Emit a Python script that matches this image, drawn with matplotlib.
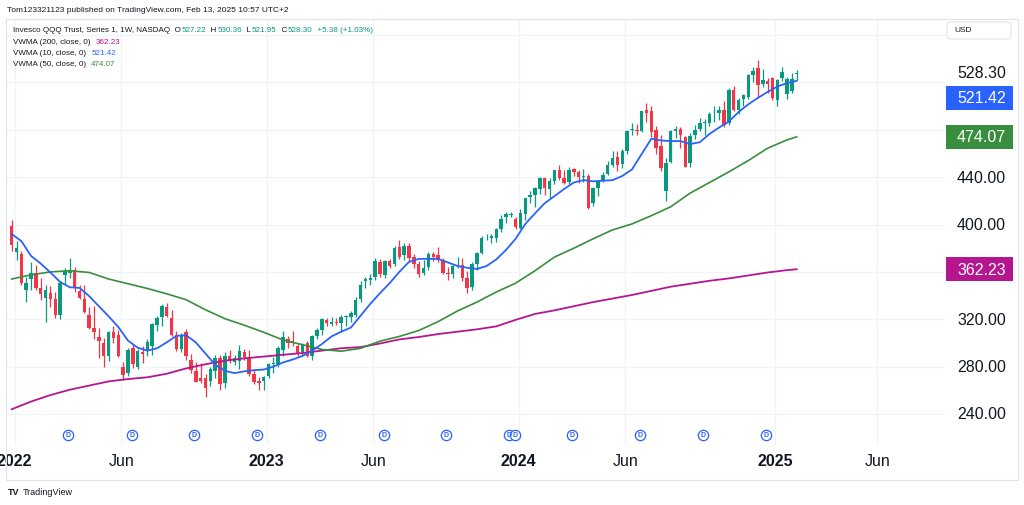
import numpy as np
import pandas as pd
import matplotlib
matplotlib.use('Agg')
import matplotlib.pyplot as plt
import matplotlib.dates as mdates
from matplotlib.patches import Rectangle, FancyBboxPatch
from matplotlib.transforms import blended_transform_factory, offset_copy

plt.rcParams['font.family'] = ['Liberation Sans', 'DejaVu Sans']

W, H = 1024, 506
DARK = '#131722'
GREEN = '#089981'
RED = '#f23645'
BLUE = '#2962ff'
MA50_COL = '#388e3c'
MA200_COL = '#b5168f'
GRID = '#f0f3fa'

# weekly QQQ candles, Jan 3 2022 .. Feb 10 2025
opens = [399, 377, 375, 345, 354, 359, 346, 338, 342, 337, 324, 357, 359, 362, 344, 337, 324, 313, 305, 300,
         289, 309, 307, 280, 275, 296, 280, 292, 294, 297, 315, 322, 330, 321, 307, 295, 309, 286, 276, 270,
         270, 268, 276, 287, 266, 289, 284, 285, 292, 287, 274, 268,
         268, 272, 282, 282, 294, 303, 302, 297, 292, 300, 289, 306, 311, 319, 316, 318, 317, 322,
         322, 324, 337, 352, 353, 356, 368, 357, 369, 367, 381, 374, 382, 373, 367, 359, 364, 375, 374, 370,
         359, 358, 365, 366, 355, 347, 367, 376, 390, 389, 389, 396, 406, 408,
         405, 397, 409, 423, 425, 430, 439, 430, 437, 446, 439, 436, 447, 444, 440, 441, 418, 431, 438, 443,
         450, 457, 451, 462, 480, 480, 479, 497, 496, 480, 466, 428, 453, 479, 481, 474, 452, 476, 481, 486,
         486, 494, 494, 497, 486, 514, 497, 506, 508, 526, 532, 519, 521, 524, 505, 524, 510, 513, 527.22]
highs = [404, 386, 378, 356, 368, 366, 355, 349, 348, 343, 352, 363, 372, 364, 349, 349, 330, 331, 313, 304,
         310, 314, 311, 284, 296, 299, 295, 297, 303, 317, 323, 333, 334, 328, 310, 308, 312, 291, 284, 283,
         274, 280, 290, 290, 292, 294, 290, 298, 295, 294, 277, 271,
         272, 283, 288, 297, 310, 306, 310, 299, 300, 302, 307, 313, 321, 321, 322, 321, 324, 324,
         327, 339, 352, 356, 358, 372, 371, 370, 371, 382, 387, 384, 384, 375, 369, 370, 377, 377, 381, 372,
         364, 366, 373, 372, 361, 368, 377, 390, 392, 392, 397, 408, 411, 411,
         406, 413, 422, 428, 432, 440, 440, 439, 446, 450, 446, 449, 448, 446, 447, 443, 432, 438, 444, 454,
         462, 462, 464, 480, 486, 485, 496, 503, 500, 483, 476, 456, 480, 483, 482, 475, 477, 484, 490, 489,
         495, 500, 500, 504, 515, 517, 507, 510, 527, 533, 539, 531, 524, 525, 523, 533, 525, 528, 530.36]
lows = [378, 370, 349, 335, 345, 345, 336, 318, 330, 321, 320, 350, 355, 343, 337, 325, 312, 303, 287, 280,
        285, 300, 288, 269, 272, 279, 278, 283, 289, 290, 310, 314, 322, 306, 293, 292, 286, 275, 267, 266,
        254, 264, 270, 260, 262, 283, 281, 278, 286, 272, 265, 260,
        260, 270, 275, 280, 289, 296, 297, 289, 289, 288, 286, 303, 307, 314, 314, 315, 309, 314,
        318, 322, 335, 346, 349, 353, 356, 355, 363, 365, 371, 370, 368, 363, 356, 357, 362, 369, 368, 358,
        353, 355, 363, 352, 342, 345, 362, 375, 387, 384, 385, 394, 401, 406,
        396, 396, 404, 418, 415, 426, 425, 422, 434, 438, 434, 434, 441, 435, 436, 413, 416, 424, 436, 442,
        449, 445, 448, 460, 476, 476, 478, 487, 474, 460, 445, 420, 452, 473, 465, 449, 449, 472, 479, 476,
        483, 487, 488, 482, 484, 496, 493, 500, 506, 520, 507, 516, 511, 505, 500, 521, 506, 511, 521.95]
closes = [383, 380, 351, 351, 359, 346, 341, 345, 337, 324, 351, 361, 362, 346, 338, 326, 313, 309, 302, 289,
          309, 304, 289, 273, 294, 282, 293, 291, 301, 316, 321, 331, 323, 307, 295, 306, 289, 277, 267, 268,
          262, 278, 287, 265, 289, 286, 287, 293, 288, 274, 267, 266,
          271, 282, 283, 296, 305, 300, 300, 291, 299, 289, 306, 311, 320, 317, 318, 317, 322, 322,
          325, 336, 349, 354, 355, 369, 358, 369, 365, 380, 373, 382, 372, 367, 358, 363, 375, 373, 370, 359,
          358, 365, 366, 355, 346, 367, 376, 389, 390, 390, 396, 405, 409, 409,
          398, 410, 422, 425, 431, 439, 431, 437, 446, 439, 435, 446, 444, 440, 440.5, 414, 431, 437, 442, 450,
          456, 450, 462, 479, 480.5, 479, 496, 494, 478, 465, 448, 452, 479, 481, 476, 449, 475, 480, 486, 487,
          493, 494, 497, 484, 514, 497, 505, 509, 526, 530, 518, 522, 518.6, 507, 522, 529, 523, 522.92, 528.30]

# VWMA readings: 10-week every 2 bars, 50 and 200-week every 4 bars plus the last bar
vwma10 = [392, 386, 373.5, 367, 359.5, 351.5, 347, 346.5, 339.5, 331,
          322.5, 313.5, 302, 296, 293.5, 295.5, 300.5, 306, 306.5, 300.5,
          291, 281.5, 276.5, 274.5, 276, 277, 277.5, 280, 283.5, 286,
          289, 293.5, 299, 305.5, 309.5, 313, 323, 333, 342, 350.5,
          360, 368.5, 371, 371, 371, 368, 365, 363.5, 362.5, 365,
          370.5, 378.5, 388, 400.5, 409.5, 418, 424, 430, 435.5, 437.5,
          436.5, 437, 437.5, 441, 446.5, 459.5, 472.5, 471, 470.5, 470.5,
          468, 469.5, 476.5, 482, 487, 495, 501.5, 507, 512, 516.5,
          519.5, 521.42]
vwma50 = [354, 357.5, 360, 361, 359.5, 354, 350, 346, 341.5, 336.5, 328, 320.5, 315, 309,
          302.5, 298.5, 294.5, 293, 295.5, 301.5, 305.5, 310.5, 318, 327, 334.5, 343, 350.5, 361,
          372.5, 380, 388, 395.5, 400.5, 407.5, 415, 426.5, 435.5, 444.5, 454, 464.5, 471.5, 474.07]
vwma200 = [244, 250.5, 256, 260.5, 264, 267.5, 269.5, 271, 274, 278.5, 282, 285, 287, 288.5,
           290, 291.5, 293.5, 295.5, 296.5, 299.5, 303, 305, 307.5, 309.5, 311.5, 314, 319.5, 324.5,
           327.5, 331, 334.5, 337.5, 340.5, 344, 347.5, 350, 352.5, 354.5, 357, 359.5, 361.5, 362.23]

dividend_dates = ['2022-03-21', '2022-06-21', '2022-09-19', '2022-12-19', '2023-03-20', '2023-06-20',
                  '2023-09-18', '2023-12-18', '2023-12-27', '2024-03-18', '2024-06-24', '2024-09-23',
                  '2024-12-23']
tick_dates = ['2022-01-03', '2022-06-06', '2023-01-02', '2023-06-05', '2024-01-01', '2024-06-03',
              '2025-01-06', '2025-06-02']
tick_labels = ['2022', 'Jun', '2023', 'Jun', '2024', 'Jun', '2025', 'Jun']
price_grid = [240, 280, 320, 360, 400, 440, 480, 520, 560]
price_labels = [240, 280, 320, 400, 440]

weeks = pd.date_range('2022-01-03', periods=len(closes), freq='W-MON')
xn = mdates.date2num(weeks.to_pydatetime())
o, h, l, c = (np.array(a, dtype=float) for a in (opens, highs, lows, closes))

fig = plt.figure(figsize=(W / 100, H / 100), dpi=100)
fig.patch.set_facecolor('white')
ax = fig.add_axes([6 / W, 60 / H, 939 / W, 426 / H])
ax.set_facecolor('white')
for s in ax.spines.values():
    s.set_visible(False)
ax.set_xticks([])
ax.set_yticks([])
x0 = xn[0]
ax.set_xlim(x0 - 8.2, x0 + 1348.2)
ax.set_ylim(213.8, 573.6)

# labels and markers sit about 3 px right of their bar
shift_days = 3 * 7 / 4.846

# grid
for p in price_grid:
    ax.axhline(p, color=GRID, lw=0.9, zorder=0)
tick_x = mdates.date2num(pd.to_datetime(tick_dates).to_pydatetime())
for tx in tick_x:
    ax.axvline(tx + shift_days, color=GRID, lw=0.9, zorder=0)

# candles
up = c >= o
cols = np.where(up, GREEN, RED)
ax.vlines(xn, l, h, colors=cols, lw=0.9, zorder=3)
ax.bar(xn, np.maximum(np.abs(c - o), 0.6), bottom=np.minimum(o, c), width=5.0,
       color=cols, lw=0, zorder=4)

# VWMA lines
idx10 = list(range(0, len(closes), 2))
idx_slow = list(range(0, 161, 4)) + [len(closes) - 1]
ax.plot(xn[idx_slow], vwma200, color=MA200_COL, lw=1.3, zorder=5)
ax.plot(xn[idx_slow], vwma50, color=MA50_COL, lw=1.2, zorder=5)
ax.plot(xn[idx10], vwma10, color=BLUE, lw=1.3, zorder=5)

# dividend markers
btrans = blended_transform_factory(ax.transData, ax.transAxes)
dtrans = offset_copy(btrans, fig=fig, x=3, y=0, units='dots')
dx = mdates.date2num(pd.to_datetime(dividend_dates).to_pydatetime())
for d in dx:
    ax.scatter([d], [0.0235], s=55, marker='o', facecolor='white', edgecolor=BLUE, lw=0.9,
               transform=dtrans, zorder=6, clip_on=False)
    ax.text(d, 0.0235, 'D', color=BLUE, fontsize=5, fontweight='bold', ha='center', va='center',
            transform=dtrans, zorder=7)

# time axis labels
for tx, lab in zip(tick_x, tick_labels):
    bold = lab != 'Jun'
    ax.text(tx, -16 / 426, lab, color=DARK, fontsize=11.5, fontweight='bold' if bold else 'normal',
            ha='center', va='center', transform=dtrans, clip_on=False)

fig.canvas.draw()
renderer = fig.canvas.get_renderer()


def ypx(p):
    return ax.transData.transform((x0, p))[1]


# price scale labels
for p in price_labels:
    fig.text(1006 / W, ypx(p) / H, f'{p:.2f}', color=DARK, fontsize=11.5, ha='right', va='center')
y_last = ypx(528.30)
fig.text(1006 / W, y_last / H, '528.30', color=DARK, fontsize=11.5, ha='right', va='center', zorder=6)
# the blue label is pushed below the last-price label, as the price scale does
box_centres = [(521.42, BLUE, y_last - 25), (474.07, MA50_COL, ypx(474.07)), (362.23, MA200_COL, ypx(362.23))]
for val, col, yc in box_centres:
    fig.add_artist(Rectangle((946 / W, (yc - 12) / H), 67 / W, 24 / H, transform=fig.transFigure,
                             fc=col, ec='none', zorder=5))
    fig.text(1006 / W, yc / H, f'{val:.2f}', color='white', fontsize=11.5, ha='right', va='center',
             zorder=6)

# USD box
fig.add_artist(FancyBboxPatch((947 / W, 1 - 40 / H), 64 / W, 17 / H, boxstyle='round,pad=0,rounding_size=0.004',
                              transform=fig.transFigure, fc='white', ec='#e0e3eb', lw=0.8, zorder=7))
fig.text(954 / W, 1 - 31 / H, 'USD', color=DARK, fontsize=6, ha='left', va='center', zorder=8)

# chart frame
fig.add_artist(Rectangle((6 / W, 1 - 481 / H), 1012 / W, 461 / H, transform=fig.transFigure,
                         fill=False, ec='#e0e3eb', lw=0.8, zorder=9))


def text_row(x_px, y_px, parts, size):
    x = x_px
    for s, col in parts:
        t = fig.text(x / W, 1 - y_px / H, s, color=col, fontsize=size, ha='left', va='center', zorder=8)
        x += t.get_window_extent(renderer).width + 0.5


text_row(7, 11, [('Tom123321123 published on TradingView.com, Feb 13, 2025 10:57 UTC+2', DARK)], 6.0)
text_row(13, 31, [('Invesco QQQ Trust, Series 1, 1W, NASDAQ  O', DARK), ('527.22', GREEN),
                  ('  H', DARK), ('530.36', GREEN), ('  L', DARK), ('521.95', GREEN),
                  ('  C', DARK), ('528.30', GREEN), ('  +5.38 (+1.03%)', GREEN)], 5.8)
text_row(13, 42.5, [('VWMA (200, close, 0)  ', DARK), ('362.23', MA200_COL)], 5.8)
text_row(13, 53.5, [('VWMA (10, close, 0)  ', DARK), ('521.42', BLUE)], 5.8)
text_row(13, 64.5, [('VWMA (50, close, 0)  ', DARK), ('474.07', MA50_COL)], 5.8)

# footer logo
fig.text(8 / W, 1 - 493 / H, 'TV', color=DARK, fontsize=6.5, fontweight='bold', ha='left', va='center')
fig.text(23 / W, 1 - 493 / H, 'TradingView', color=DARK, fontsize=6.5, ha='left', va='center')

fig.savefig('out.png', dpi=100, facecolor='white')
